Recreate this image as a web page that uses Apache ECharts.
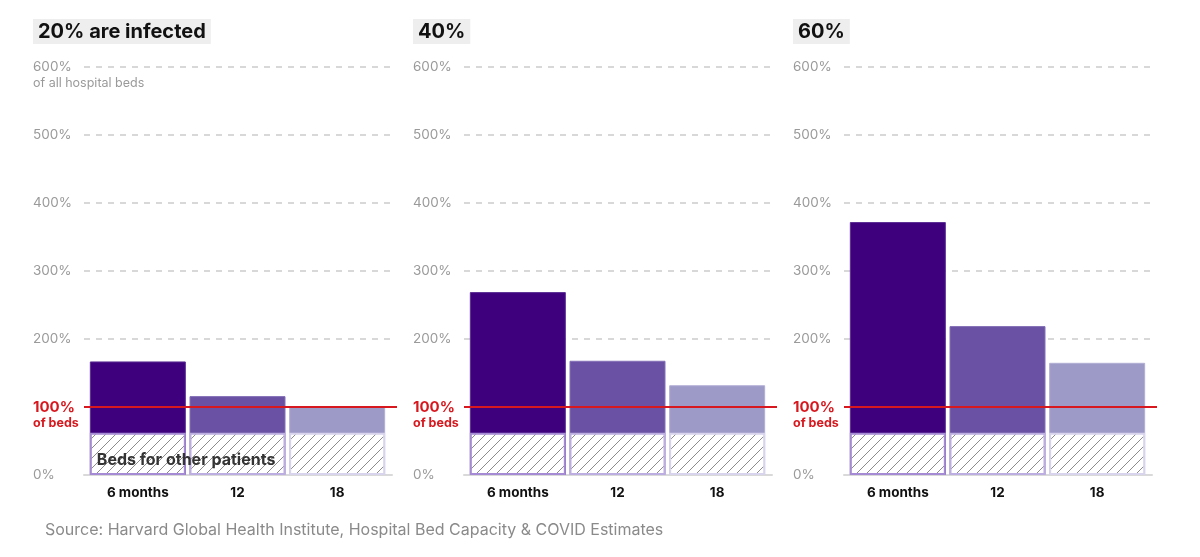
<!DOCTYPE html>
<html>
<head>
<meta charset="utf-8">
<script src="https://cdn.jsdelivr.net/npm/echarts@6/dist/echarts.min.js"></script>
<style>
html,body{margin:0;padding:0;background:#fff;}
#chart{width:1200px;height:557px;}
</style>
</head>
<body>
<div id="chart"></div>
<script>
// ---- data ----
const categories = ['6 months', '12', '18'];
const panelTitles = ['20% are infected', '40%', '60%'];
const total20 = [167, 116, 100];
const total40 = [269, 168, 132];
const total60 = [372, 219, 165];
const otherPatients = [62, 62, 62];
const yTicks = [0, 100, 200, 300, 400, 500, 600];
const sourceText = 'Source: Harvard Global Health Institute, Hospital Bed Capacity & COVID Estimates';
const otherLabel = 'Beds for other patients';

const totals = [total20, total40, total60];
const barColors = ['#3f007d', '#6a51a3', '#9e9ac8'];
const barBorders = ['#5a2e93', '#8470b6', '#b2aed5'];
const hatchBorders = ['#a58bd3', '#bcaee0', '#d9d4ee'];
const FONT = 'Inter, "Noto Sans", sans-serif';

function hatchCanvas() {
  const s = 10;
  const c = document.createElement('canvas');
  c.width = s; c.height = s;
  const g = c.getContext('2d');
  g.fillStyle = '#ffffff';
  g.fillRect(0, 0, s, s);
  g.strokeStyle = '#8c8c8c';
  g.lineWidth = 1;
  g.beginPath();
  g.moveTo(0, s); g.lineTo(s, 0);
  g.moveTo(-2, 2); g.lineTo(2, -2);
  g.moveTo(s - 2, s + 2); g.lineTo(s + 2, s - 2);
  g.stroke();
  return c;
}
const hatch = { image: hatchCanvas(), repeat: 'repeat' };

const chart = echarts.init(document.getElementById('chart'));

const grids = [], xAxes = [], yAxes = [], series = [], titles = [];
const OFF = 380, TOP = 67, H = 408;

for (let p = 0; p < 3; p++) {
  const o = p * OFF;
  // title
  titles.push({
    text: panelTitles[p], left: 33 + o, top: 19,
    backgroundColor: '#eeeeee', padding: [3, 5, 2, 5],
    textStyle: { fontFamily: FONT, fontSize: 20, fontWeight: 'bold', color: '#111' }
  });
  // grid A: axis labels, gridlines, baseline
  const gA = grids.length;
  grids.push({ left: 84 + o, top: TOP, width: 308, height: H });
  xAxes.push({
    type: 'value', gridIndex: gA, min: 0, max: 1,
    axisLine: { show: true, onZero: false, lineStyle: { color: '#d9d9d9', width: 2 } },
    axisTick: { show: false }, axisLabel: { show: false }, splitLine: { show: false }
  });
  yAxes.push({
    type: 'value', gridIndex: gA, min: yTicks[0], max: yTicks[yTicks.length - 1], interval: 100,
    axisLine: { show: false }, axisTick: { show: false },
    splitLine: { show: true, lineStyle: { color: '#cccccc', width: 1.5, type: [6, 6] } },
    axisLabel: {
      show: true, align: 'left', margin: 51,
      fontFamily: FONT, fontSize: 13.5, color: '#9a9a9a',
      formatter: function (v) {
        if (v === 100) return '{sp| }\n{red|100%}\n{reds|of beds}';
        if (v === 600 && p === 0) return '{sp| }\n{gr|600%}\n{gs|of all hospital beds}';
        return v + '%';
      },
      rich: {
        sp: { lineHeight: 16, fontSize: 10 },
        red: { fontFamily: FONT, fontSize: 15, fontWeight: 'bold', color: '#d7191f', lineHeight: 16 },
        reds: { fontFamily: FONT, fontSize: 12.5, fontWeight: 'bold', color: '#d7191f', lineHeight: 16 },
        gr: { fontFamily: FONT, fontSize: 13.5, color: '#9a9a9a', lineHeight: 16 },
        gs: { fontFamily: FONT, fontSize: 12.5, color: '#9a9a9a', lineHeight: 16 }
      }
    }
  });
  // grid B: bars
  const gB = grids.length;
  grids.push({ left: 88 + o, top: TOP, width: 299, height: H });
  xAxes.push({
    type: 'category', gridIndex: gB, data: categories,
    axisLine: { show: false }, axisTick: { show: false },
    axisLabel: { margin: 11, fontFamily: FONT, fontSize: 13.5, fontWeight: 'bold', color: '#111' }
  });
  yAxes.push({ type: 'value', gridIndex: gB, min: 0, max: 600, show: false });
  series.push({
    type: 'bar', xAxisIndex: gB, yAxisIndex: gB, barWidth: 96, barGap: '-100%', z: 2,
    silent: true,
    data: totals[p].map((v, i) => ({
      value: v,
      itemStyle: { color: barColors[i], borderColor: barBorders[i], borderWidth: 1 }
    }))
  });
  series.push({
    type: 'bar', xAxisIndex: gB, yAxisIndex: gB, barWidth: 96, barGap: '-100%', z: 3,
    silent: true,
    data: otherPatients.map((v, i) => ({
      value: v,
      itemStyle: { color: hatch, borderColor: hatchBorders[i], borderWidth: 2 },
      label: (p === 0 && i === 0) ? {
        show: true, position: 'insideBottomLeft', distance: 6, offset: [1, -1],
        formatter: otherLabel, fontFamily: FONT, fontSize: 16, fontWeight: 'bold', color: '#333'
      } : { show: false }
    }))
  });
  // grid C: red 100% line
  const gC = grids.length;
  grids.push({ left: 84 + o, top: TOP, width: 313, height: H });
  xAxes.push({ type: 'value', gridIndex: gC, min: 0, max: 1, show: false });
  yAxes.push({ type: 'value', gridIndex: gC, min: 0, max: 600, show: false });
  series.push({
    type: 'line', xAxisIndex: gC, yAxisIndex: gC, z: 6, silent: true,
    symbol: 'none', data: [[0, 100], [1, 100]],
    lineStyle: { color: '#d7191f', width: 2 }
  });
}

titles.push({
  text: sourceText, left: 40, top: 517,
  textStyle: { fontFamily: FONT, fontSize: 16, fontWeight: 'normal', color: '#8a8a8a' }
});

chart.setOption({
  animation: false,
  backgroundColor: '#ffffff',
  title: titles,
  grid: grids,
  xAxis: xAxes,
  yAxis: yAxes,
  series: series
});
</script>
</body>
</html>
